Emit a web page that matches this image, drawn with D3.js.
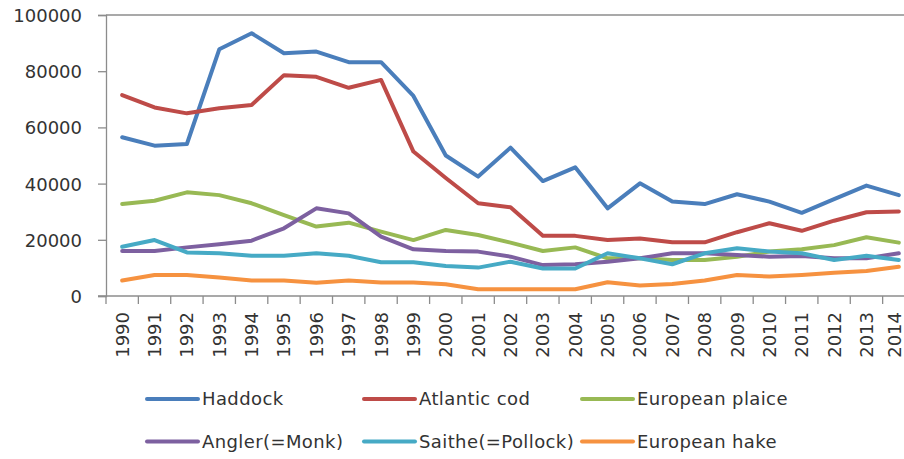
<!DOCTYPE html>
<html><head><meta charset="utf-8">
<script src="https://cdn.jsdelivr.net/npm/d3@7"></script>
<style>body{margin:0;background:#fff}svg{display:block}text{font-family:"DejaVu Sans",sans-serif;fill:#333}</style>
</head><body>
<svg id="c" width="904" height="459"></svg>
<script>
const years = ["1990","1991","1992","1993","1994","1995","1996","1997","1998","1999","2000","2001","2002","2003","2004","2005","2006","2007","2008","2009","2010","2011","2012","2013","2014"];
const yTicks = [0, 20000, 40000, 60000, 80000, 100000];
const seriesNames = ["Haddock","Atlantic cod","European plaice","Angler(=Monk)","Saithe(=Pollock)","European hake"];
const haddock = [56500,53500,54100,87800,93500,86400,87000,83200,83200,71200,50000,42500,52800,40900,45800,31200,40100,33600,32700,36200,33600,29600,34500,39300,35900];
const atlanticCod = [71500,67100,65000,66800,68000,78600,78000,74100,76900,51400,42000,33000,31600,21400,21400,19900,20500,19100,19100,22700,25900,23200,26800,29800,30100];
const europeanPlaice = [32700,33900,36900,35900,33000,28800,24700,26100,22900,19900,23500,21700,19000,16000,17300,13400,13400,12800,12800,14000,15800,16600,18100,20900,19000];
const angler = [16000,16000,17300,18400,19700,24100,31200,29400,21100,16600,16000,15800,14000,11000,11300,12200,13400,15200,15200,14600,14000,14200,13400,13400,15200];
const saithe = [17500,19900,15500,15200,14300,14300,15200,14300,12000,12000,10700,10100,12200,9800,9800,15200,13400,11300,15200,17000,15800,15200,12800,14300,12800];
const europeanHake = [5500,7500,7500,6600,5500,5500,4700,5500,4800,4800,4200,2400,2400,2400,2400,4900,3700,4300,5500,7500,6900,7500,8300,8900,10400];
const seriesData = [haddock, atlanticCod, europeanPlaice, angler, saithe, europeanHake];
const colors = ["#4A7EBB","#BE4B48","#98B954","#7D60A0","#46AAC5","#F69240"];

const svg = d3.select("#c");
const mLeft = 106, mTop = 15, mBottom = 296, step = 32.36;
const x = d3.scaleBand().domain(years).range([mLeft, mLeft + step*years.length]).padding(0);
const y = d3.scaleLinear().domain([0, 100000]).range([mBottom, mTop]);
const axisCol = "#8c8c8c";

// top border / gridline
svg.append("line").attr("x1", mLeft).attr("x2", 904).attr("y1", y(100000)).attr("y2", y(100000))
  .attr("stroke", axisCol).attr("stroke-width", 1.3);

// y axis
const ya = svg.append("g").attr("transform", `translate(${mLeft},0)`)
  .call(d3.axisLeft(y).tickValues(yTicks).tickSize(8).tickPadding(16).tickFormat(d3.format("d")));
ya.select(".domain").attr("stroke", axisCol).attr("stroke-width", 1.3);
ya.selectAll(".tick line").attr("stroke", axisCol).attr("stroke-width", 1.3);
ya.selectAll("text").attr("font-size", 18).attr("font-family", "DejaVu Sans").attr("fill", "#333").attr("dy","0.36em");

// x axis
const xg = svg.append("g");
xg.append("line").attr("x1", mLeft - 8).attr("x2", 904).attr("y1", mBottom).attr("y2", mBottom)
  .attr("stroke", axisCol).attr("stroke-width", 1.3);
const bounds = years.map(d => x(d)).concat([x(years[years.length-1]) + x.bandwidth()]);
xg.selectAll("line.tk").data(bounds).join("line").attr("class","tk")
  .attr("x1", d => d).attr("x2", d => d).attr("y1", mBottom).attr("y2", mBottom + 8)
  .attr("stroke", axisCol).attr("stroke-width", 1.3);
xg.selectAll("text").data(years).join("text")
  .attr("transform", d => `translate(${Math.min(x(d) + x.bandwidth()/2, 895)},312) rotate(-90)`)
  .attr("text-anchor", "end").attr("dy", "0.36em").attr("font-size", 18).text(d => d);

// lines
const line = d3.line().x((d, i) => x(years[i]) + x.bandwidth()/2).y(d => y(d));
svg.append("g").selectAll("path").data(seriesData).join("path")
  .attr("d", line).attr("fill", "none")
  .attr("stroke", (d, i) => colors[i]).attr("stroke-width", 4)
  .attr("stroke-linejoin", "round").attr("stroke-linecap", "round");

// legend
const legX = [147, 364, 582], legY = [399, 441.5];
const lg = svg.append("g");
seriesNames.forEach((name, i) => {
  const cx = legX[i % 3], cy = legY[Math.floor(i / 3)];
  lg.append("line").attr("x1", cx).attr("x2", cx + 51).attr("y1", cy).attr("y2", cy)
    .attr("stroke", colors[i]).attr("stroke-width", 4).attr("stroke-linecap", "round");
  lg.append("text").attr("x", cx + 55).attr("y", cy).attr("dy", "0.36em")
    .attr("font-size", 18).attr("letter-spacing", "0.4px").text(name);
});
</script>
</body></html>
